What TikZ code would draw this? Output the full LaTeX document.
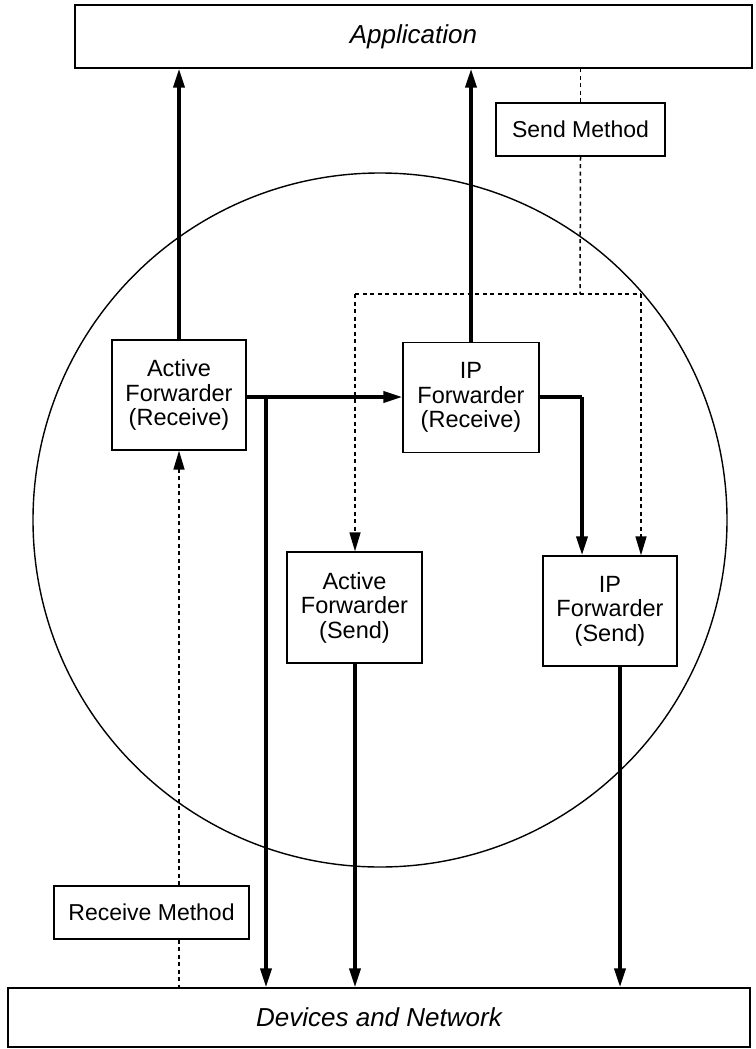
\documentclass[tikz,border=0pt]{standalone}
\usepackage{fontspec}
\setmainfont{Liberation Sans}
\usetikzlibrary{arrows.meta}
\begin{document}
\begin{tikzpicture}[x=1pt,y=-1pt,
  box/.style={draw,line width=1.4pt,align=center,inner sep=0pt,anchor=center},
  fwd/.style={box,font=\fontsize{23.5}{24.5}\selectfont},
  label/.style={box,font=\fontsize{23}{26}\selectfont},
  layer/.style={box,font=\fontsize{26}{28}\selectfont\itshape},
  flow/.style={line width=3.6pt,-{Triangle[length=19pt,width=11pt]}},
  flowline/.style={line width=3.6pt},
  ctrl/.style={line width=1.5pt,dash pattern=on 4pt off 3.5pt,-{Triangle[length=19pt,width=11pt]}},
  ctrlline/.style={line width=1.5pt,dash pattern=on 4pt off 3.5pt}]
\useasboundingbox (0,0) rectangle (755,1049);
\draw[line width=1.4pt] (380,520) circle[radius=347];
% top and bottom layers
\node[layer,minimum width=677pt,minimum height=63pt] (app) at (413.5,36.5) {Application};
\node[layer,minimum width=742pt,minimum height=59pt] (dev) at (379,1017.5) {Devices and Network};
% method labels
\node[label,minimum width=169pt,minimum height=53pt] (send) at (580.5,129.5) {Send Method};
\node[label,minimum width=195pt,minimum height=53pt] (recv) at (151.5,912.5) {Receive Method};
% forwarders
\node[fwd,minimum width=134pt,minimum height=110pt] (afr) at (179,395) {Active\\Forwarder\\(Receive)};
\node[fwd,minimum width=136pt,minimum height=110pt] (ipfr) at (471,397.5) {IP\\Forwarder\\(Receive)};
\node[fwd,minimum width=135pt,minimum height=111pt] (afs) at (354.5,607.5) {Active\\Forwarder\\(Send)};
\node[fwd,minimum width=134pt,minimum height=110pt] (ipfs) at (610,611) {IP\\Forwarder\\(Send)};
% junction points
\coordinate (split) at (266,397);
\coordinate (ipturn) at (582,397);
\coordinate (sendjoin) at (580,294);
\coordinate (sendL) at (355,294);
\coordinate (sendR) at (641,294);
% data paths
\draw[flow] (afr.north) -- (afr.north |- app.south);
\draw[flow] (ipfr.north) -- (ipfr.north |- app.south);
\draw[flow] (afr.east |- split) -- (ipfr.west |- split);
\draw[flow] (split) -- (split |- dev.north);
\draw[flowline] (ipfr.east |- ipturn) -- (ipturn);
\draw[flow] (ipturn) -- (ipturn |- ipfs.north);
\draw[flow] (afs.south -| sendL) -- (sendL |- dev.north);
\draw[flow] (620,0 |- ipfs.south) -- (620,0 |- dev.north);
% control paths
\draw[ctrlline] (send.north) -- (send.north |- app.south);
\draw[ctrlline] (send.south) -- (sendjoin);
\draw[ctrlline] (sendL) -- (sendR);
\draw[ctrl] (sendL) -- (sendL |- afs.north);
\draw[ctrl] (sendR) -- (sendR |- ipfs.north);
\draw[ctrl] (179,0 |- recv.north) -- (afr.south);
\draw[ctrlline] (179,0 |- recv.south) -- (179,0 |- dev.north);
\end{tikzpicture}
\end{document}
